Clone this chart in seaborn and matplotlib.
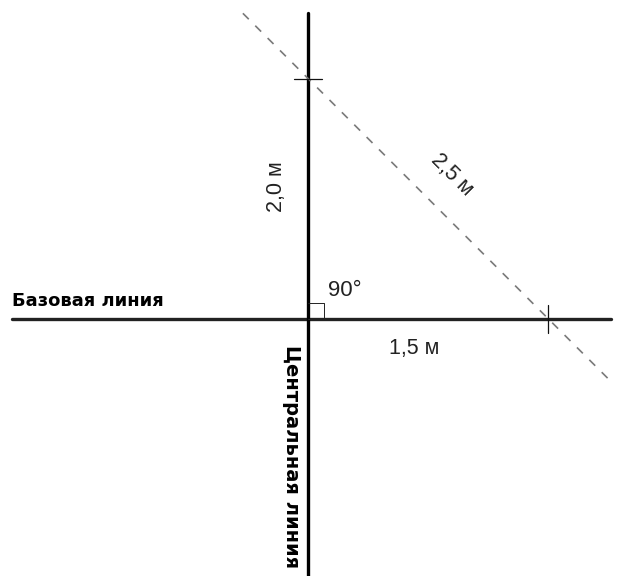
import matplotlib
matplotlib.use("Agg")
import matplotlib.pyplot as plt
import seaborn as sns

# ---- data (metres) ----
baseline_x = [-1.853, 1.891]
baseline_y = [0.0, 0.0]
central_x = [0.0, 0.0]
central_y = [2.55, -2.16]
hyp_x = [-0.41, 1.88]
hyp_y = [2.547, -0.507]
tick_v_x = [-0.0875, 0.0875]   # tick on central line at 2.0 m
tick_v_y = [2.0, 2.0]
tick_h_x = [1.5, 1.5]          # tick on baseline at 1.5 m
tick_h_y = [-0.117, 0.117]
square_x = [0.0, 0.094, 0.094, 0.0]
square_y = [0.133, 0.133, 0.0, 0.0]

labels = {
    "base": "Базовая линия",
    "central": "Центральная линия",
    "side_a": "2,0 м",
    "side_b": "1,5 м",
    "hyp": "2,5 м",
    "angle": "90°",
}

sns.set_style("white")
fig = plt.figure(figsize=(6.2, 5.76), dpi=100)
ax = fig.add_axes([0, 0, 1, 1])

sns.lineplot(x=baseline_x, y=baseline_y, ax=ax, color="#222222", linewidth=2.4, sort=False, estimator=None)
sns.lineplot(x=central_x, y=central_y, ax=ax, color="#000000", linewidth=2.4, sort=False, estimator=None)
sns.lineplot(x=hyp_x, y=hyp_y, ax=ax, color="#7a7a7a", linewidth=1.2, sort=False, estimator=None)
ax.lines[-1].set_dashes([5, 5.5])
sns.lineplot(x=tick_v_x, y=tick_v_y, ax=ax, color="#111111", linewidth=0.9, sort=False, estimator=None)
sns.lineplot(x=tick_h_x, y=tick_h_y, ax=ax, color="#111111", linewidth=0.9, sort=False, estimator=None)
sns.lineplot(x=square_x, y=square_y, ax=ax, color="#222222", linewidth=0.7, sort=False, estimator=None)

ax.set_xlim(-1.928, 1.947)
ax.set_ylim(-2.142, 2.658)
ax.axis("off")

ax.text(-1.853, 0.15, labels["base"], ha="left", va="center", fontsize=13,
        fontweight="bold", family="DejaVu Sans", color="#000000")
ax.text(-0.109, -1.15, labels["central"], ha="center", va="center", rotation=-90,
        fontsize=14, fontweight="bold", family="DejaVu Sans", color="#000000")
ax.text(-0.197, 1.10, labels["side_a"], ha="center", va="center", rotation=90,
        fontsize=15.5, family="Liberation Sans", color="#222222")
ax.text(0.659, -0.25, labels["side_b"], ha="center", va="center",
        fontsize=15.5, family="Liberation Sans", color="#222222")
ax.text(0.897, 1.2, labels["hyp"], ha="center", va="center", rotation=-45,
        rotation_mode="anchor", fontsize=15.5, family="Liberation Sans", color="#222222")
ax.text(0.228, 0.24, labels["angle"], ha="center", va="center",
        fontsize=16, family="Liberation Sans", color="#222222")

fig.savefig("out.png", dpi=100, facecolor="white")
